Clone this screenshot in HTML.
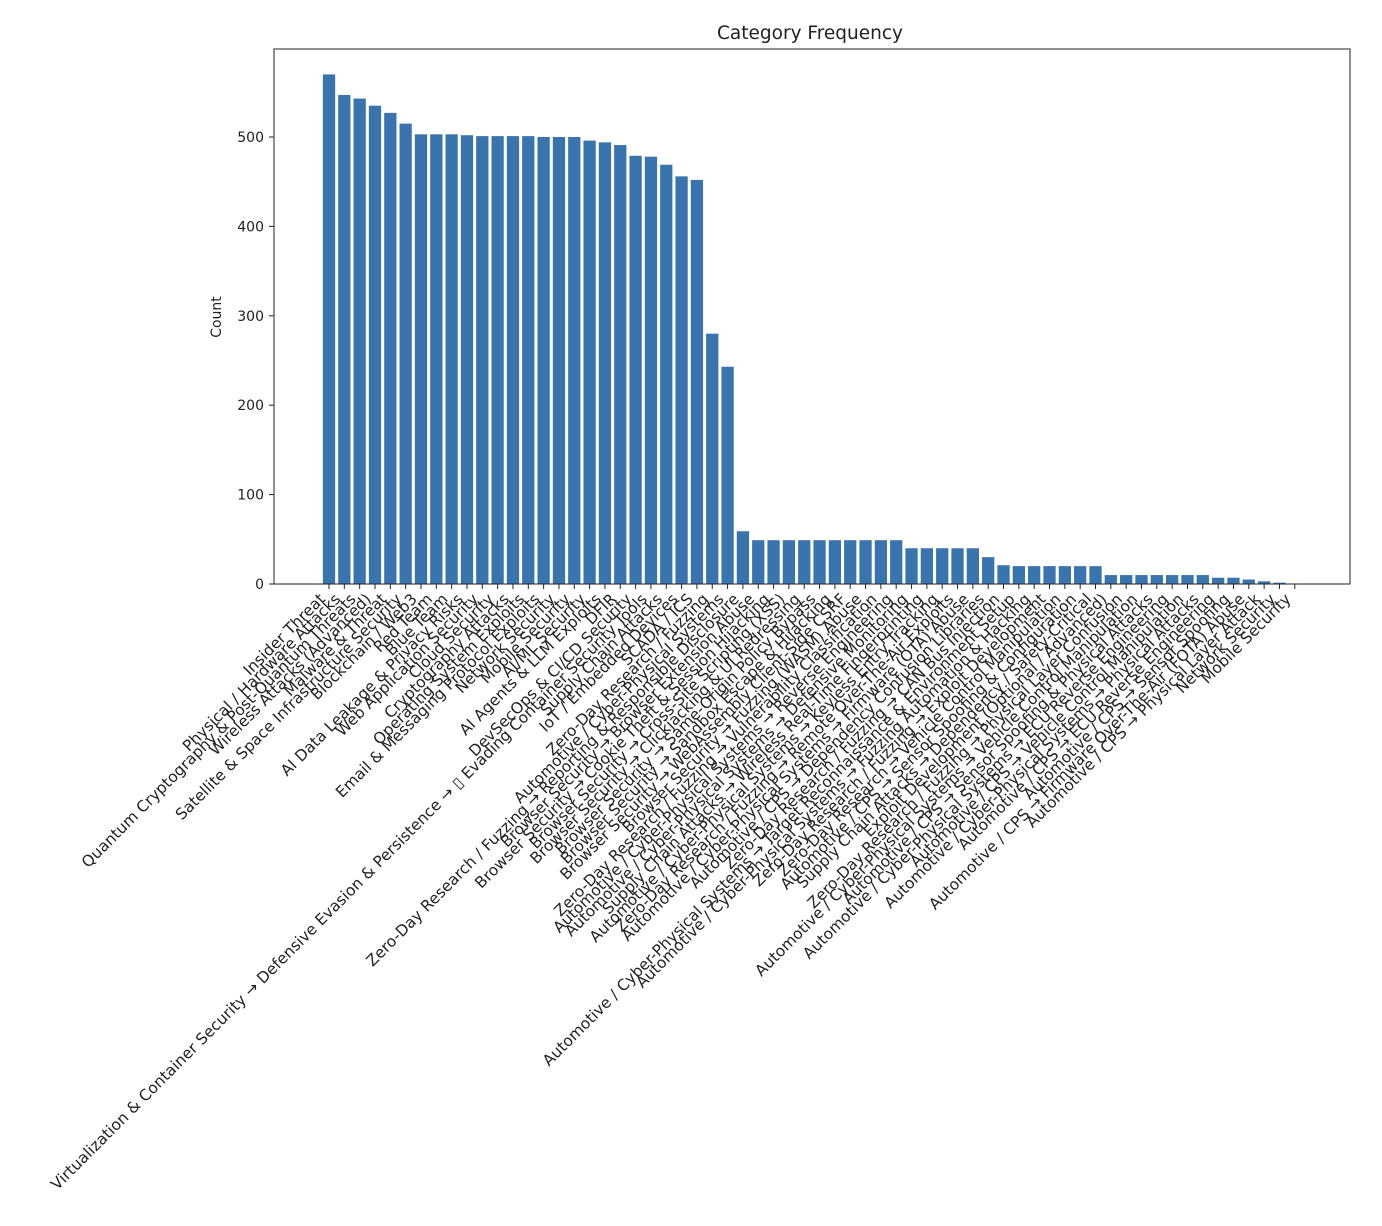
<!DOCTYPE html>
<html><head><meta charset="utf-8"><style>
html,body{margin:0;padding:0;background:#fff;}
svg{display:block;font-family:"DejaVu Sans","Liberation Sans","Noto Sans CJK SC",sans-serif;}
</style></head><body>
<svg id="c" width="1382" height="1226" xmlns="http://www.w3.org/2000/svg">
<rect width="1382" height="1226" fill="#fff"/>
<text x="810" y="39" font-size="18.5" text-anchor="middle" fill="#222">Category Frequency</text>
<text transform="translate(221,317) rotate(-90)" font-size="14" text-anchor="middle" fill="#222">Count</text>
<g id="bars" fill="#3a74ae"></g>
<rect x="274" y="49" width="1076" height="535" fill="none" stroke="#222" stroke-width="1"/>
<g id="yt" font-size="14" fill="#222" text-anchor="end"></g>
<g id="xt" font-size="15.5" fill="#222" text-anchor="end"></g>
</svg>
<script>
var vals=[570,547,543,535,527,515,503,503,503,502,501,501,501,501,500,500,500,496,494,491,479,478,469,456,452,280,243,59,49,49,49,49,49,49,49,49,49,49,40,40,40,40,40,30,21,20,20,20,20,20,20,10,10,10,10,10,10,10,7,7,5,3,1.5,0.5];
var labels=["Insider Threat","Physical / Hardware Attacks","Quantum Cryptography & Post-Quantum Threats","Wireless Attacks (Advanced)","Malware & Threat","Satellite & Space Infrastructure Security","Blockchain / Web3","Red Team","Blue Team","AI Data Leakage & Privacy Risks","Web Application Security","Cloud Security","Cryptography Attacks","Operating System Exploits","Email & Messaging Protocol Exploits","Network Security","Mobile Security","AI/ML Security","AI Agents & LLM Exploits","DFIR","DevSecOps & CI/CD Security","Virtualization & Container Security → Defensive Evasion & Persistence → ▯ Evading Container Security Tools","Supply Chain Attacks","IoT / Embedded Devices","SCADA / ICS","Zero-Day Research / Fuzzing","Automotive / Cyber-Physical Systems","Zero-Day Research / Fuzzing → Reporting & Responsible Disclosure","Browser Security → Browser Extension Abuse","Browser Security → Cookie Theft & Session Hijacking","Browser Security → Cross-Site Scripting (XSS)","Browser Security → Clickjacking & UI Redressing","Browser Security → Same-Origin Policy Bypass","Browser Security → Sandbox Escape & Hijacking","Browser Security → WebAssembly Client-Side CSRF","Browser Security → Fuzzing (WASM) Abuse","Zero-Day Research / Fuzzing → Vulnerability Classification","Automotive / Cyber-Physical Systems → Reverse Engineering","Automotive / Cyber-Physical Systems → Defensive Monitoring","Supply Chain Attacks → Wireless Real-Time Fingerprinting","Automotive / Cyber-Physical Systems → Keyless Entry Tracking","Zero-Day Research / Fuzzing → Remote Over-The-Air Exploits","Automotive / Cyber-Physical Systems → Firmware (OTA) Abuse","Automotive / CPS → Dependency Confusion Libraries","Zero-Day Research / Fuzzing → CAN Bus Injection","Automotive / Cyber-Physical Systems → Target Reconnaissance & Environment Setup","Automotive / Cyber-Physical Systems → Fuzzing Automation & Hacking","Zero-Day Research / Fuzzing → Exploit Development","Zero-Day Research → Vehicle Control Manipulation","Automotive / CPS → Sensor Spoofing & Configuration","Supply Chain Attacks → Dependency / Safety-Critical","Exploit Development (Optional / Advanced)","Zero-Day Research / Fuzzing → Physical Layer Confusion","Automotive / Cyber-Physical Systems → Vehicle Control Manipulation","Automotive / CPS → Sensor Spoofing & Physical Attacks","Automotive / Cyber-Physical Systems → ECU Reverse Engineering","Automotive / CPS → Vehicle Control Manipulation","Automotive / Cyber-Physical Systems → Physical Attacks","Automotive / CPS → ECU Reverse Engineering","Automotive / CPS → Sensor Spoofing","Automotive / CPS → Firmware Over-The-Air (FOTA) Abuse","Automotive / CPS → Physical Layer Attack","Network Security","Mobile Security"];
var NS="http://www.w3.org/2000/svg";
var p=15.33, x0=329, y0=584, s=0.894, bw=12.27;
var bars=document.getElementById('bars'), xt=document.getElementById('xt'), yt=document.getElementById('yt');
for(var i=0;i<vals.length;i++){
  var cx=x0+p*i, h=vals[i]*s;
  var r=document.createElementNS(NS,'rect');
  r.setAttribute('x',(cx-bw/2).toFixed(2));r.setAttribute('y',(y0-h).toFixed(2));
  r.setAttribute('width',bw.toFixed(2));r.setAttribute('height',h.toFixed(2));
  bars.appendChild(r);
  var l=document.createElementNS(NS,'line');
  l.setAttribute('x1',cx);l.setAttribute('x2',cx);l.setAttribute('y1',584);l.setAttribute('y2',589);
  l.setAttribute('stroke','#222');xt.appendChild(l);
  var t=document.createElementNS(NS,'text');
  t.setAttribute('transform','translate('+(cx-3).toFixed(2)+',600) rotate(-45)');
  t.textContent=labels[i];xt.appendChild(t);
}
for(var k=0;k<=5;k++){
  var y=y0-100*k*s;
  var l=document.createElementNS(NS,'line');
  l.setAttribute('x1',269);l.setAttribute('x2',274);l.setAttribute('y1',y);l.setAttribute('y2',y);
  l.setAttribute('stroke','#222');yt.appendChild(l);
  var t=document.createElementNS(NS,'text');
  t.setAttribute('x',264);t.setAttribute('y',y+5);t.textContent=String(100*k);yt.appendChild(t);
}
</script>
</body></html>
